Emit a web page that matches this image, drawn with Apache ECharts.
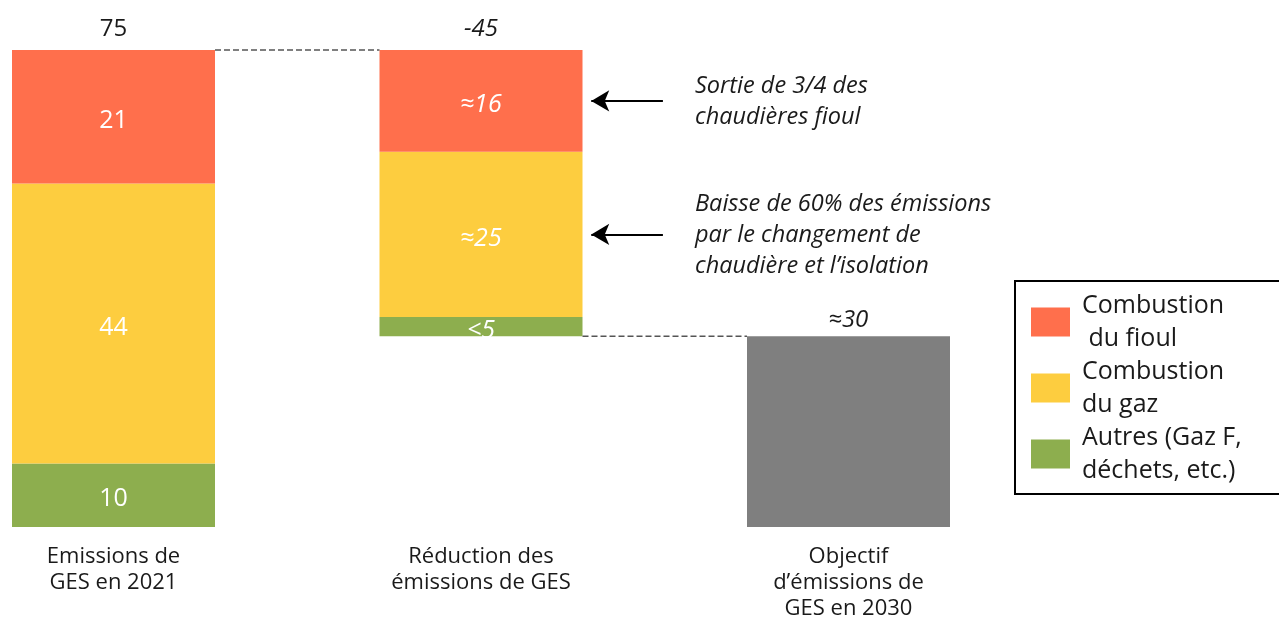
<!DOCTYPE html>
<html>
<head>
<meta charset="utf-8">
<script src="https://cdn.jsdelivr.net/npm/echarts@6/dist/echarts.min.js"></script>
<style>
  html, body { margin: 0; padding: 0; background: #fff; }
  #chart { width: 1279px; height: 622px; }
</style>
</head>
<body>
<div id="chart"></div>
<script>
// categories and values
const categories = ['Emissions de\nGES en 2021', 'Réduction des\némissions de GES', 'Objectif\nd’émissions de\nGES en 2030'];
const baseValues = [0, 30, 0];          // invisible offset for the waterfall step
const autresValues = [10, 3, null];
const gazValues = [44, 26, null];
const fioulValues = [21, 16, null];
const objectifValues = [null, null, 30];
const totalValues = [75, 75, 30];        // top of each column
const topLabels = ['75', '-45', '≈30'];
const autresLabels = ['10', '<5', ''];
const gazLabels = ['44', '≈25', ''];
const fioulLabels = ['21', '≈16', ''];
const seriesNames = ['Combustion\n du fioul', 'Combustion\ndu gaz', 'Autres (Gaz F,\ndéchets, etc.)'];
const notes = ['Sortie de 3/4 des\nchaudières fioul', 'Baisse de 60% des émissions\npar le changement de\nchaudière et l’isolation'];

const FONT = '"Open Sans"';
const BAR_W = 203;
const BAND = 367.5;                 // distance between two columns
const half = BAR_W / 2 / BAND;

let chart = echarts.init(document.getElementById('chart'));

// dashed connectors between columns (hidden value x axis, 1 unit = 1 column step)
const connectorData = [
    [0 + half, totalValues[0]], [1 - half, totalValues[0]], null,
    [1 + half, baseValues[1]], [2 - half, baseValues[1]]
];

// arrows point at the middle of the red and yellow parts of the reduction column
const fioulMid = baseValues[1] + autresValues[1] + gazValues[1] + fioulValues[1] / 2;
const gazMid = baseValues[1] + autresValues[1] + gazValues[1] / 2;
const arrowFrom = 1.495, arrowTo = 1.30;

function barLabel(labels) {
    return {
        show: true,
        position: 'inside',
        offset: [0, 4],
        color: '#fff',
        fontSize: 25,
        fontFamily: FONT,
        formatter: p => labels[p.dataIndex]
    };
}

function styledData(values) {
    return values.map((v, i) => ({
        value: v,
        label: { fontStyle: i === 1 ? 'italic' : 'normal' }
    }));
}

let option = {
    animation: false,
    textStyle: { fontFamily: FONT },
    grid: { left: 113.5, right: 430.5, top: 50, bottom: 92 },
    xAxis: [
        {
            type: 'category',
            data: categories,
            boundaryGap: false,
            axisLine: { show: false },
            axisTick: { show: false },
            axisLabel: { fontSize: 22, lineHeight: 26, color: '#1a1a1a', margin: 17, fontFamily: FONT }
        },
        { type: 'value', min: 0, max: 2, show: false }
    ],
    yAxis: { type: 'value', min: 0, max: 75, show: false },
    legend: {
        orient: 'vertical',
        left: 1015,
        top: 281,
        data: seriesNames,
        icon: 'rect',
        itemWidth: 39,
        itemHeight: 29,
        itemGap: 0,
        padding: [8, 40, 7, 16],
        borderColor: '#000',
        borderWidth: 2,
        selectedMode: false,
        textStyle: { fontSize: 25, lineHeight: 33, color: '#1a1a1a', fontFamily: FONT, padding: [0, 0, 0, 7] }
    },
    graphic: [
        {
            type: 'text', left: 695, top: 71,
            style: { text: notes[0], fontSize: 23.5, lineHeight: 31, fontStyle: 'italic', fontFamily: FONT, fill: '#1a1a1a' }
        },
        {
            type: 'text', left: 695, top: 189,
            style: { text: notes[1], fontSize: 23.5, lineHeight: 31, fontStyle: 'italic', fontFamily: FONT, fill: '#1a1a1a' }
        }
    ],
    series: [
        {
            type: 'bar', stack: 'total', barWidth: BAR_W, silent: true, clip: false,
            itemStyle: { color: 'transparent' },
            data: baseValues
        },
        {
            name: seriesNames[2], type: 'bar', stack: 'total', barWidth: BAR_W, clip: false,
            itemStyle: { color: '#8DAE4E' },
            label: barLabel(autresLabels),
            data: styledData(autresValues)
        },
        {
            name: seriesNames[1], type: 'bar', stack: 'total', barWidth: BAR_W, clip: false,
            itemStyle: { color: '#FDCD3F' },
            label: barLabel(gazLabels),
            data: styledData(gazValues)
        },
        {
            name: seriesNames[0], type: 'bar', stack: 'total', barWidth: BAR_W, clip: false,
            itemStyle: { color: '#FF6F4C' },
            label: barLabel(fioulLabels),
            data: styledData(fioulValues)
        },
        {
            name: 'Objectif', type: 'bar', stack: 'total', barWidth: BAR_W, clip: false,
            itemStyle: { color: '#7F7F7F' },
            data: objectifValues
        },
        {
            // column totals above each column
            type: 'line', symbol: 'circle', symbolSize: 1, silent: true, clip: false,
            itemStyle: { color: 'rgba(0,0,0,0)' },
            lineStyle: { opacity: 0 },
            label: {
                show: true, position: 'top', distance: 8,
                fontSize: 24, color: '#1a1a1a', fontFamily: FONT,
                formatter: p => topLabels[p.dataIndex]
            },
            data: totalValues.map((v, i) => ({
                value: v,
                label: { fontStyle: i === 0 ? 'normal' : 'italic', distance: i === 2 ? 4 : 8 }
            })),
            z: 5
        },
        {
            // dashed connectors + arrows
            type: 'line', xAxisIndex: 1, symbol: 'none', silent: true, clip: false,
            lineStyle: { color: '#555', width: 1.4, type: [6, 3] },
            data: connectorData,
            markLine: {
                silent: true,
                symbol: ['none', 'arrow'],
                symbolSize: [16, 18],
                label: { show: false },
                lineStyle: { color: '#000', width: 2, type: 'solid' },
                data: [
                    [{ coord: [arrowFrom, fioulMid] }, { coord: [arrowTo, fioulMid] }],
                    [{ coord: [arrowFrom, gazMid] }, { coord: [arrowTo, gazMid] }]
                ]
            }
        }
    ]
};

chart.setOption(option);
</script>
</body>
</html>
